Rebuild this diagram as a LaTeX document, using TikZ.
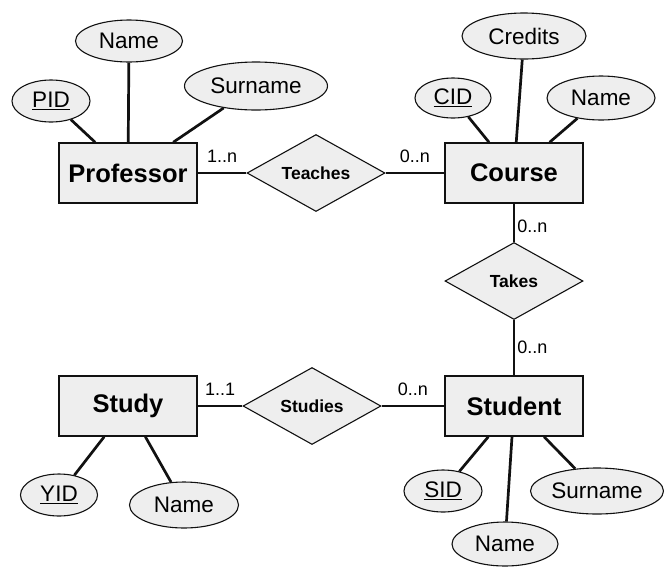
\documentclass[tikz,border=0pt]{standalone}
\usepackage{fontspec}
\setmainfont{Liberation Sans}
\usepackage{tikz}
\usetikzlibrary{shapes.geometric}
\definecolor{ErFill}{HTML}{EEEEEE}
\definecolor{ErLine}{HTML}{111111}

\begin{document}
\begin{tikzpicture}[x=1pt,y=-1pt,
  entity/.style={draw=ErLine,line width=1.5pt,fill=ErFill,minimum width=138pt,minimum height=60pt,inner sep=0pt,font=\fontsize{25.5}{30}\selectfont\bfseries},
  attr/.style={draw=ErLine,ellipse,line width=1.1pt,fill=ErFill,inner sep=0pt,minimum height=43pt,font=\fontsize{22.5}{27}\selectfont},
  rel/.style={draw=ErLine,diamond,aspect=1.8,line width=1.1pt,fill=ErFill,minimum width=138pt,minimum height=77pt,inner sep=0pt,font=\fontsize{17.5}{21}\selectfont\bfseries},
  link/.style={draw=ErLine,line width=2.7pt},
  card/.style={font=\fontsize{18}{21}\selectfont,inner sep=2pt}]
\useasboundingbox (0,0) rectangle (664,566);

\node[entity] (professor) at (128,173) {Professor};
\node[entity] (course) at (514,173) {Course};
\node[entity] (student) at (514,406) {Student};
\node[entity] (study) at (128,406) {Study};

\node[rel] (teaches) at (316,173) {Teaches};
\node[rel] (takes) at (514,281) {Takes};
\node[rel] (studies) at (312,406) {Studies};

\node[attr,minimum width=78pt,minimum height=42pt] (pidP) at (51,101) {\underline{PID}};
\node[attr,minimum width=107pt,minimum height=42pt] (nameP) at (129,41) {Name};
\node[attr,minimum width=143pt,minimum height=48pt] (surP) at (256,86) {Surname};
\node[attr,minimum width=76pt,minimum height=40pt] (cidC) at (453,98) {\underline{CID}};
\node[attr,minimum width=124pt,minimum height=46pt] (credC) at (524,36) {Credits};
\node[attr,minimum width=108pt,minimum height=44pt] (nameC) at (601,98) {Name};
\node[attr,minimum width=78pt,minimum height=42pt] (sidS) at (443,491) {\underline{SID}};
\node[attr,minimum width=106pt,minimum height=44pt] (nameS) at (505,544) {Name};
\node[attr,minimum width=133pt,minimum height=46pt] (surS) at (597,491) {Surname};
\node[attr,minimum width=77pt,minimum height=42pt] (yidY) at (59,495) {\underline{YID}};
\node[attr,minimum width=109pt,minimum height=46pt] (nameY) at (184,505) {Name};

\draw[link] (pidP) -- (professor);
\draw[link] (nameP) -- (professor);
\draw[link] (surP) -- (professor);
\draw[link] (cidC) -- (course);
\draw[link] (credC) -- (course);
\draw[link] (nameC) -- (course);
\draw[link] (sidS) -- (student);
\draw[link] (nameS) -- (student);
\draw[link] (surS) -- (student);
\draw[link] (yidY) -- (study);
\draw[link] (nameY) -- (study);

\draw[link] (professor) -- (teaches) node[card,midway,above=7pt] {1..n};
\draw[link] (teaches) -- (course) node[card,midway,above=7pt] {0..n};
\draw[link] (course) -- (takes) node[card,pos=.6,right] {0..n};
\draw[link] (takes) -- (student) node[card,midway,right] {0..n};
\draw[link] (study) -- (studies) node[card,midway,above=7pt] {1..1};
\draw[link] (studies) -- (student) node[card,midway,above=7pt] {0..n};
\end{tikzpicture}
\end{document}
